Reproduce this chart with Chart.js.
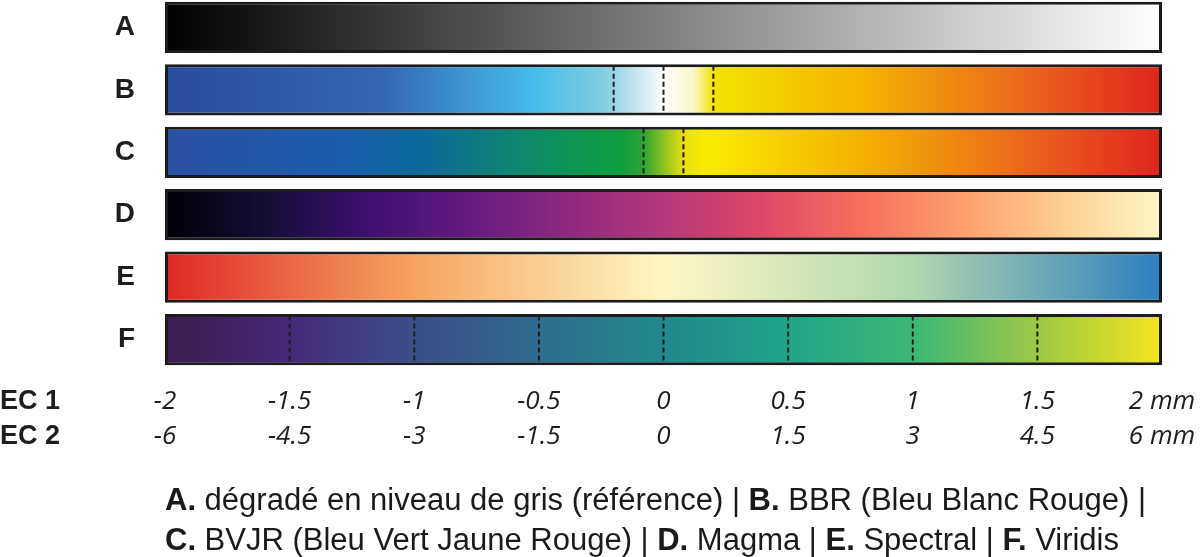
<!DOCTYPE html>
<html>
<head>
<meta charset="utf-8">
<script src="https://cdn.jsdelivr.net/npm/chart.js@4/dist/chart.umd.min.js"></script>
<style>
  html, body { margin: 0; padding: 0; background: #fff; }
  #wrap { position: relative; width: 1200px; height: 557px; }
  #c { position: absolute; left: 0; top: 0; }
  #caption { position: absolute; left: 165px; top: 480px; font-family: "Liberation Sans", Arial, sans-serif; font-size: 31px; line-height: 40px; color: #1a1a1a; white-space: nowrap; }
  #caption b { font-weight: bold; }
</style>
</head>
<body>
<div id="wrap">
  <canvas id="c" width="1200" height="557"></canvas>
  <div id="caption">
    <b>A.</b> dégradé en niveau de gris (référence) | <b>B.</b> BBR (Bleu Blanc Rouge) |<br>
    <b>C.</b> BVJR (Bleu Vert Jaune Rouge) | <b>D.</b> Magma | <b>E.</b> Spectral | <b>F.</b> Viridis
  </div>
</div>
<script>
// ---------------- DATA ----------------
const rowLabels = ['A', 'B', 'C', 'D', 'E', 'F'];
const rangeStart = [-2, -2, -2, -2, -2, -2];
const rangeEnd = [2, 2, 2, 2, 2, 2];
const ec1Ticks = [-2, -1.5, -1, -0.5, 0, 0.5, 1, 1.5, 2];
const ec2Ticks = [-6, -4.5, -3, -1.5, 0, 1.5, 3, 4.5, 6];
const unitLabel = 'mm';
const axisNames = ['EC 1', 'EC 2'];
const dashesB = [-0.2, 0, 0.2];
const dashesC = [-0.08, 0.08];
const dashesF = [-1.5, -1, -0.5, 0, 0.5, 1, 1.5];

// ---------------- STYLES (colour ramps) ----------------
const ramps = [
  [[0, '#000000'], [1, '#ffffff']],
  [[0, '#2a4c9e'], [0.22, '#3567b3'], [0.37, '#45bdea'], [0.44, '#82cde0'], [0.49, '#e6f4f7'], [0.5, '#ffffff'], [0.53, '#faf6cc'], [0.55, '#f2e300'], [0.7, '#f4b300'], [0.85, '#ec6c1b'], [1, '#e0241f']],
  [[0, '#2b50a3'], [0.18, '#1a5eab'], [0.26, '#0b6a9a'], [0.36, '#0d8a6c'], [0.46, '#0f9f3c'], [0.48, '#2ea532'], [0.52, '#e6df10'], [0.54, '#f9ec00'], [0.7, '#f4b100'], [0.85, '#ec6c1b'], [1, '#e0241f']],
  [[0, '#000004'], [0.1, '#140e36'], [0.2, '#3b0f70'], [0.3, '#641a80'], [0.4, '#8c2981'], [0.5, '#b73779'], [0.6, '#de4968'], [0.7, '#f7705c'], [0.8, '#fe9f6d'], [0.9, '#fecf92'], [1, '#fbf6c5']],
  [[0, '#df2826'], [0.25, '#f6a462'], [0.5, '#fef7c2'], [0.75, '#b0d7ae'], [1, '#2c7fbe']],
  [[0, '#3b1e50'], [0.12, '#462879'], [0.25, '#3c4e8a'], [0.37, '#2f6a8e'], [0.5, '#22898c'], [0.62, '#1fa489'], [0.75, '#3cb777'], [0.87, '#9ac846'], [1, '#f2e51c']]
];
const LINE_COLOR = '#1c1c1c';
const TEXT_COLOR = '#1e1e1e';

const gradCache = {};
function rampFill(context) {
  const chart = context.chart;
  const xs = chart.scales.x;
  if (!chart.chartArea || !xs) return '#888';
  const i = context.dataIndex;
  const x0 = xs.getPixelForValue(rangeStart[i]);
  const x1 = xs.getPixelForValue(rangeEnd[i]);
  const key = i + ':' + x0 + ':' + x1;
  if (!gradCache[key]) {
    const g = chart.ctx.createLinearGradient(x0, 0, x1, 0);
    ramps[i].forEach(([p, c]) => g.addColorStop(p, c));
    gradCache[key] = g;
  }
  return gradCache[key];
}

const HALF = 0.385;
function dashDatasets(values, row) {
  return values.map(v => ({
    type: 'line',
    data: [{ x: v, y: row - HALF }, { x: v, y: row + HALF }],
    borderColor: LINE_COLOR,
    borderWidth: 2,
    borderDash: [5, 3],
    pointRadius: 0,
    fill: false,
    order: 0
  }));
}

const barData = rowLabels.map((_, i) => ({ x: [rangeStart[i], rangeEnd[i]], y: i }));

const ROW_H = 35;
const ecLabelsPlugin = {
  id: 'ecLabels',
  afterDraw(chart) {
    const xs = chart.scales.x;
    const ctx = chart.ctx;
    ctx.save();
    ctx.font = 'bold 27px "Liberation Sans", Arial, sans-serif';
    ctx.fillStyle = TEXT_COLOR;
    ctx.textAlign = 'left';
    ctx.textBaseline = 'middle';
    const top = xs.top + xs.options.ticks.padding;
    axisNames.forEach((n, k) => ctx.fillText(n, 0, top + ROW_H * (k + 0.5)));
    ctx.restore();
  }
};

new Chart(document.getElementById('c'), {
  type: 'bar',
  data: {
    datasets: [
      {
        type: 'bar',
        data: barData,
        backgroundColor: rampFill,
        borderColor: LINE_COLOR,
        borderWidth: 3,
        borderSkipped: false,
        barPercentage: 0.82,
        categoryPercentage: 1,
        order: 1
      },
      ...dashDatasets(dashesB, 1),
      ...dashDatasets(dashesC, 2),
      ...dashDatasets(dashesF, 5)
    ]
  },
  options: {
    indexAxis: 'y',
    responsive: false,
    animation: false,
    layout: { padding: { left: 0, right: 38, top: 0, bottom: 0 } },
    plugins: { legend: { display: false }, tooltip: { enabled: false } },
    scales: {
      x: {
        type: 'linear',
        position: 'bottom',
        min: ec1Ticks[0],
        max: ec1Ticks[ec1Ticks.length - 1],
        grid: { display: false, drawTicks: false },
        border: { display: false },
        afterBuildTicks: s => { s.ticks = ec1Ticks.map(v => ({ value: v })); },
        afterFit: s => { s.height = 190; s.paddingLeft = 0; s.paddingRight = 0; },
        ticks: {
          padding: 17,
          maxRotation: 0,
          autoSkip: false,
          color: TEXT_COLOR,
          font: { family: '"Open Sans", "DejaVu Sans", sans-serif', size: 26, style: 'italic', lineHeight: ROW_H / 26 },
          callback: (v, i) => {
            const last = i === ec1Ticks.length - 1;
            return [String(ec1Ticks[i]) + (last ? ' ' + unitLabel : ''), String(ec2Ticks[i]) + (last ? ' ' + unitLabel : '')];
          }
        }
      },
      y: {
        type: 'linear',
        position: 'left',
        reverse: true,
        offset: false,
        min: -0.44,
        max: 5.44,
        grid: { display: false, drawTicks: false },
        border: { display: false },
        afterBuildTicks: s => { s.ticks = rowLabels.map((_, i) => ({ value: i })); },
        afterFit: s => { s.width = 165; s.paddingTop = 0; s.paddingBottom = 0; },
        ticks: {
          padding: 30,
          color: TEXT_COLOR,
          font: { family: '"Liberation Sans", Arial, sans-serif', size: 28, weight: 'bold' },
          callback: (v) => rowLabels[v]
        }
      }
    }
  },
  plugins: [ecLabelsPlugin]
});
</script>
</body>
</html>
